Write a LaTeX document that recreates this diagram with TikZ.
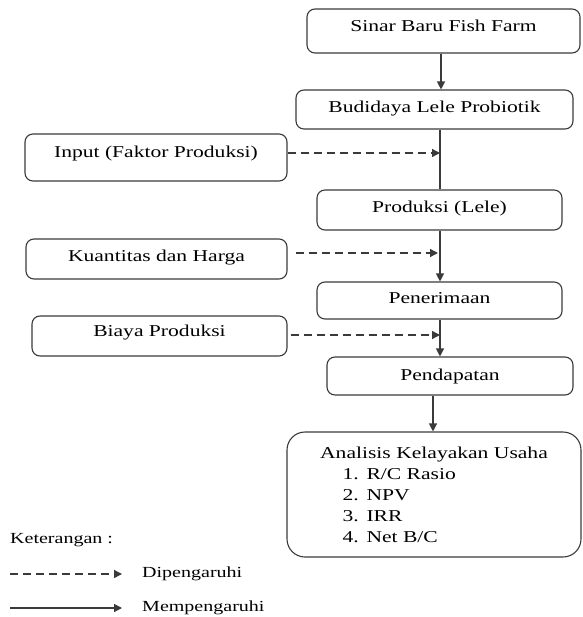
\documentclass[tikz,border=0pt]{standalone}
\usepackage{fontspec}
\setmainfont[FakeStretch=1.3]{Liberation Serif}
\usetikzlibrary{arrows.meta}
\definecolor{ln}{HTML}{3A3A3A}
\begin{document}
\begin{tikzpicture}[x=1pt,y=-1pt,
  boxbase/.style={draw=ln, line width=1.1pt, rounded corners=8pt, inner sep=0pt, font=\fontsize{16.6}{21}\selectfont},
  box/.style={boxbase, text height=11pt, text depth=#1},
  box/.default=4pt,
  flow/.style={draw=ln, line width=1.2pt, -{Triangle[length=8pt,width=8pt]}},
  plainline/.style={draw=ln, line width=1.2pt},
  infl/.style={draw=ln, line width=1.4pt, dash pattern=on 8pt off 5pt, -{Triangle[length=8pt,width=8pt]}},
  legtext/.style={font=\fontsize{15.4}{18}\selectfont, inner sep=0pt, anchor=west, text height=10pt, text depth=3.5pt}]
\useasboundingbox (0,0) rectangle (582,617);

% main column
\node[box=10pt, minimum width=273pt, minimum height=44pt] (farm) at (443.5,31) {Sinar Baru Fish Farm};
\node[box, minimum width=277pt, minimum height=39pt] (bud) at (434.5,109.5) {Budidaya Lele Probiotik};
\node[box=5pt, minimum width=245pt, minimum height=40pt] (prod) at (439.5,210) {Produksi (Lele)};
\node[box=5pt, minimum width=245pt, minimum height=37pt] (pen) at (439.5,300.5) {Penerimaan};
\node[box=2pt, minimum width=246pt, minimum height=38pt] (pend) at (450,376) {Pendapatan};
\node[boxbase, rounded corners=18pt, minimum width=294pt, minimum height=125pt, align=center] (ana) at (434,494.5)
  {\makebox[231pt][c]{Analisis Kelayakan Usaha}\\
   \makebox[231pt][l]{\hspace{24pt}\makebox[24pt][l]{1.}R/C Rasio}\\
   \makebox[231pt][l]{\hspace{24pt}\makebox[24pt][l]{2.}NPV}\\
   \makebox[231pt][l]{\hspace{24pt}\makebox[24pt][l]{3.}IRR}\\
   \makebox[231pt][l]{\hspace{24pt}\makebox[24pt][l]{4.}Net B/C}};

% side boxes
\node[box=11pt, minimum width=262pt, minimum height=47pt] (inp) at (156,157.5) {Input (Faktor Produksi)};
\node[box=6pt, minimum width=261pt, minimum height=40pt] (kua) at (156.5,259) {Kuantitas dan Harga};
\node[box=10pt, minimum width=255pt, minimum height=40pt] (bia) at (159.5,336) {Biaya Produksi};

% spine coordinates
\coordinate (sp) at (441,0);
\coordinate (sp2) at (440,0);
\coordinate (sp3) at (433,0);

\draw[flow] (farm.south -| sp) -- (bud.north -| sp);
\draw[plainline] (bud.south -| sp2) -- (prod.north -| sp2);
\draw[flow] (prod.south -| sp2) -- (pen.north -| sp2);
\draw[flow] (pen.south -| sp2) -- (pend.north -| sp2);
\draw[flow] (pend.south -| sp3) -- (ana.north -| sp3);

% influences
\coordinate (d1) at (440,153);
\coordinate (d2) at (438,253);
\coordinate (d3) at (440,335);
\draw[infl] (inp.east |- d1) -- (d1);
\draw[infl] ([xshift=8pt]kua.east |- d2) -- (d2);
\draw[infl] ([xshift=3pt]bia.east |- d3) -- (d3);

% legend
\node[legtext] (ket) at (10,540) {Keterangan :};
\coordinate (l1a) at (10,574);
\coordinate (l1b) at (122,574);
\coordinate (l2a) at (10,608);
\coordinate (l2b) at (122,608);
\draw[infl] (l1a) -- (l1b);
\draw[flow] (l2a) -- (l2b);
\node[legtext] (dip) at (142,574) {Dipengaruhi};
\node[legtext] (mem) at (142,608) {Mempengaruhi};
\end{tikzpicture}
\end{document}
